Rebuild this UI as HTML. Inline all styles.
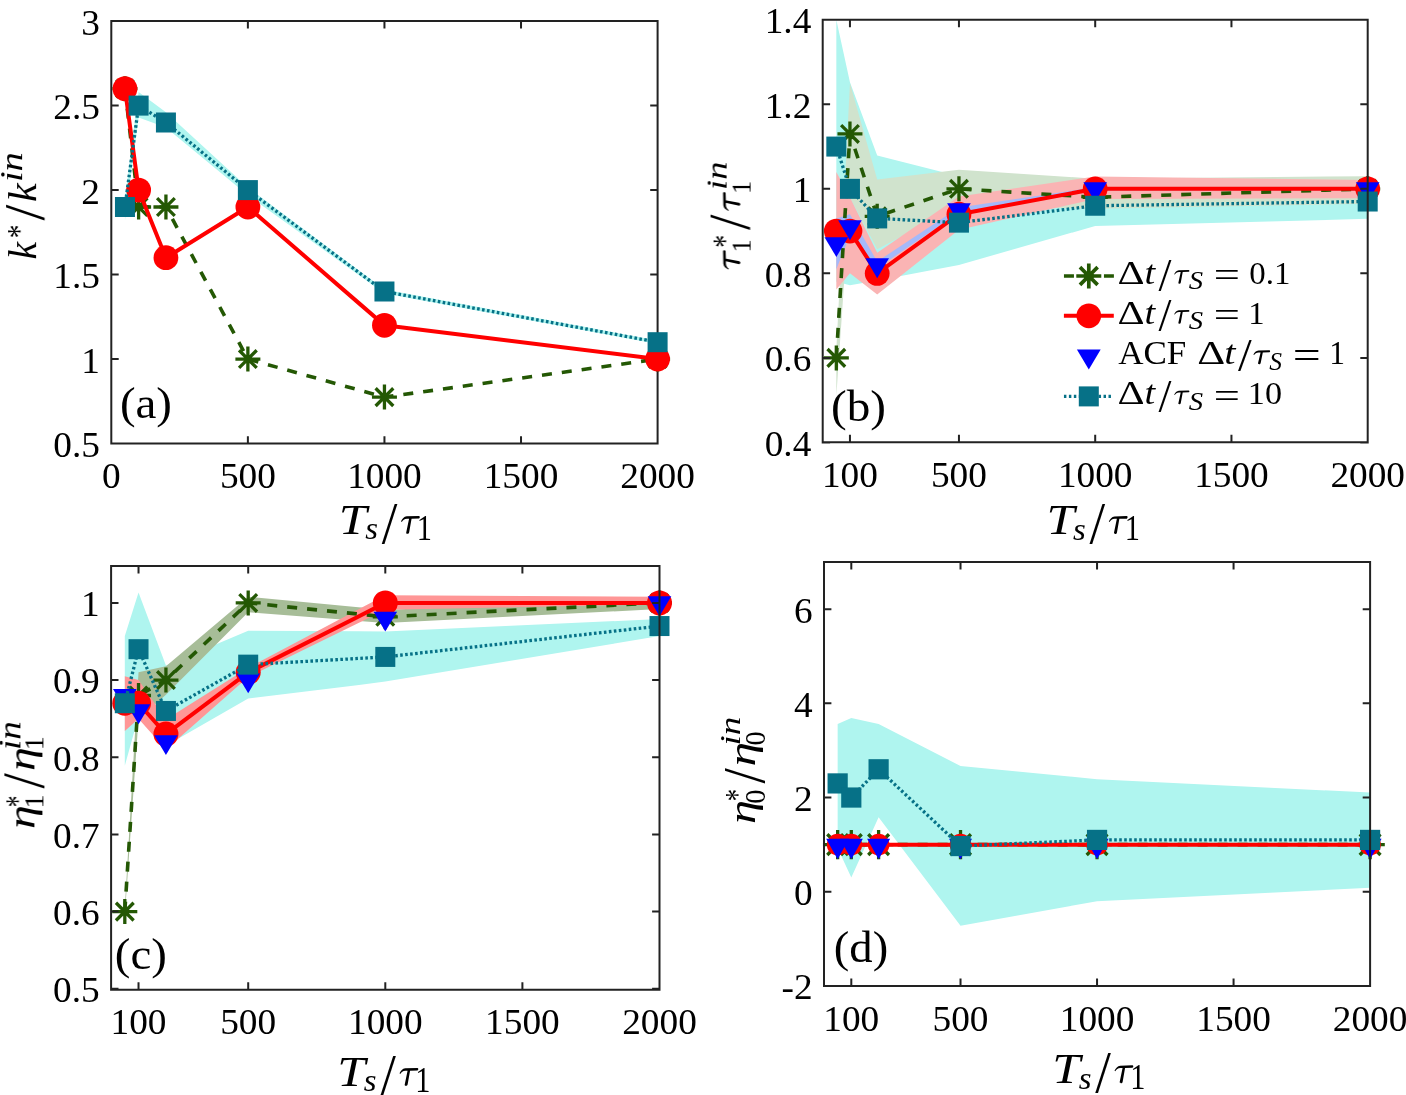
<!DOCTYPE html>
<html><head><meta charset="utf-8"><style>
html,body{margin:0;padding:0;background:#fff;}
svg{display:block;}
text{-webkit-font-smoothing:antialiased;}
text{font-family:"Liberation Serif",serif;fill:#000;}
</style></head><body>
<svg width="1406" height="1095" viewBox="0 0 1406 1095">
<rect width="1406" height="1095" fill="#fff"/>
<g style="will-change:transform">
<path d="M111.3 21.1H657.6V443.6H111.3ZM111.3 443.6v-6.4M111.3 21.1v6.4M247.88 443.6v-6.4M247.88 21.1v6.4M384.45 443.6v-6.4M384.45 21.1v6.4M521.02 443.6v-6.4M521.02 21.1v6.4M657.6 443.6v-6.4M657.6 21.1v6.4M111.3 443.6h6.4M657.6 443.6h-6.4M111.3 359.1h6.4M657.6 359.1h-6.4M111.3 274.6h6.4M657.6 274.6h-6.4M111.3 190.1h6.4M657.6 190.1h-6.4M111.3 105.6h6.4M657.6 105.6h-6.4M111.3 21.1h6.4M657.6 21.1h-6.4" fill="none" stroke="#222222" stroke-width="2" stroke-linecap="square"/>
<polygon points="124.96,198.55 138.62,92.08 165.93,112.36 247.88,187.56 384.45,289.47 657.6,340.51 657.6,343.89 384.45,293.53 247.88,195.17 165.93,127.57 138.62,117.43 124.96,220.52" fill="#aff5ef"/>
<polyline points="124.96,88.7 138.62,207 165.93,207 247.88,359.1 384.45,397.12 657.6,359.1" fill="none" stroke="#245804" stroke-width="3.6" stroke-dasharray="10 10"/>
<path d="M112.46 88.7L137.46 88.7M116.12 79.86L133.8 97.54M124.96 76.2L124.96 101.2M133.8 79.86L116.12 97.54" stroke="#245804" stroke-width="3.3" fill="none"/>
<path d="M126.12 207L151.12 207M129.78 198.16L147.45 215.84M138.62 194.5L138.62 219.5M147.45 198.16L129.78 215.84" stroke="#245804" stroke-width="3.3" fill="none"/>
<path d="M153.43 207L178.43 207M157.09 198.16L174.77 215.84M165.93 194.5L165.93 219.5M174.77 198.16L157.09 215.84" stroke="#245804" stroke-width="3.3" fill="none"/>
<path d="M235.38 359.1L260.38 359.1M239.04 350.26L256.71 367.94M247.88 346.6L247.88 371.6M256.71 350.26L239.04 367.94" stroke="#245804" stroke-width="3.3" fill="none"/>
<path d="M371.95 397.12L396.95 397.12M375.61 388.29L393.29 405.96M384.45 384.62L384.45 409.62M393.29 388.29L375.61 405.96" stroke="#245804" stroke-width="3.3" fill="none"/>
<path d="M645.1 359.1L670.1 359.1M648.76 350.26L666.44 367.94M657.6 346.6L657.6 371.6M666.44 350.26L648.76 367.94" stroke="#245804" stroke-width="3.3" fill="none"/>
<polyline points="124.96,88.7 138.62,190.1 165.93,257.7 247.88,207 384.45,325.3 657.6,359.1" fill="none" stroke="#ff0000" stroke-width="4" stroke-linejoin="round"/>
<circle cx="124.96" cy="88.7" r="12.4" fill="#ff0000"/>
<circle cx="138.62" cy="190.1" r="12.4" fill="#ff0000"/>
<circle cx="165.93" cy="257.7" r="12.4" fill="#ff0000"/>
<circle cx="247.88" cy="207" r="12.4" fill="#ff0000"/>
<circle cx="384.45" cy="325.3" r="12.4" fill="#ff0000"/>
<circle cx="657.6" cy="359.1" r="12.4" fill="#ff0000"/>
<polyline points="124.96,207 138.62,105.6 165.93,122.5 247.88,190.1 384.45,291.5 657.6,342.2" fill="none" stroke="#067187" stroke-width="3.3" stroke-dasharray="2.6 2.4"/>
<rect x="114.96" y="197" width="20" height="20" fill="#067187"/>
<rect x="128.62" y="95.6" width="20" height="20" fill="#067187"/>
<rect x="155.93" y="112.5" width="20" height="20" fill="#067187"/>
<rect x="237.88" y="180.1" width="20" height="20" fill="#067187"/>
<rect x="374.45" y="281.5" width="20" height="20" fill="#067187"/>
<rect x="647.6" y="332.2" width="20" height="20" fill="#067187"/>
<text transform="translate(101.97 487.9) scale(1.054 1)" font-size="35.4">0</text>
<text transform="translate(219.89 487.9) scale(1.054 1)" font-size="35.4">500</text>
<text transform="translate(347.14 487.9) scale(1.054 1)" font-size="35.4">1000</text>
<text transform="translate(483.71 487.9) scale(1.054 1)" font-size="35.4">1500</text>
<text transform="translate(620.29 487.9) scale(1.054 1)" font-size="35.4">2000</text>
<text transform="translate(53.26 457) scale(1.054 1)" font-size="35.4">0.5</text>
<text transform="translate(81.24 372.5) scale(1.054 1)" font-size="35.4">1</text>
<text transform="translate(53.26 288) scale(1.054 1)" font-size="35.4">1.5</text>
<text transform="translate(81.24 203.5) scale(1.054 1)" font-size="35.4">2</text>
<text transform="translate(53.26 119) scale(1.054 1)" font-size="35.4">2.5</text>
<text transform="translate(81.24 34.5) scale(1.054 1)" font-size="35.4">3</text>
<text transform="translate(338.73 533.6) scale(1.2039 1)" font-size="41.83" font-style="italic">T</text>
<text transform="translate(365.19 539.39) scale(1.0498 1)" font-size="31.25" font-style="italic">s</text>
<text transform="translate(381.8 542.7) scale(0.9416 1)" font-size="59.7">/</text>
<path transform="translate(401 515.9) scale(19.200 18.200)" d="M0 .30C.07 .16 .15 .03 .30 .02L.93 0C.99 0 1 .10 .94 .14L.55 .15L.425 .90C.41 1.01 .27 1.01 .27 .92L.42 .15L.31 .15C.17 .16 .10 .22 .04 .33Z" fill="#000"/>
<text transform="translate(416.84 539.7) scale(0.8348 1)" font-size="36.36">1</text>
<text transform="translate(119.91 418.48) scale(1.0700 1)" font-size="43.86">(a)</text>
<polygon points="836.33,19.8 849.95,82.34 877.2,155.45 958.95,176.16 1095.2,180.39 1367.7,184.61 1367.7,218.84 1095.2,226.03 958.95,264.91 877.2,280.54 849.95,285.19 836.33,281.81" fill="#aff5ef"/>
<polygon points="836.33,349.43 849.95,83.19 877.2,179.54 958.95,169.82 1095.2,178.7 1367.7,176.16 1367.7,203.63 1095.2,208.7 958.95,205.74 877.2,249.27 849.95,197.29 836.33,395.91" fill="#d0e3cd"/>
<polygon points="836.33,171.94 849.95,197.29 877.2,252.65 958.95,196.45 1095.2,176.58 1367.7,179.97 1367.7,198.14 1095.2,198.98 958.95,229.83 877.2,294.49 849.95,273.36 836.33,289.42" fill="#fab4b4"/>
<polygon points="836.33,218.42 849.95,214.2 877.2,261.53 958.95,207.43 1095.2,187.15 1367.7,187.15 1367.7,190.53 1095.2,190.53 958.95,212.51 877.2,268.29 849.95,235.33 836.33,269.13" fill="#a5b9fa"/>
<polyline points="836.33,357.88 849.95,133.9 877.2,216.31 958.95,188.84 1095.2,197.29 1367.7,188.84" fill="none" stroke="#245804" stroke-width="3.6" stroke-dasharray="10 10"/>
<path d="M823.83 357.88L848.83 357.88M827.49 349.04L845.16 366.72M836.33 345.38L836.33 370.38M845.16 349.04L827.49 366.72" stroke="#245804" stroke-width="3.3" fill="none"/>
<path d="M837.45 133.9L862.45 133.9M841.11 125.06L858.79 142.74M849.95 121.4L849.95 146.4M858.79 125.06L841.11 142.74" stroke="#245804" stroke-width="3.3" fill="none"/>
<path d="M864.7 216.31L889.7 216.31M868.36 207.47L886.04 225.15M877.2 203.81L877.2 228.81M886.04 207.47L868.36 225.15" stroke="#245804" stroke-width="3.3" fill="none"/>
<path d="M946.45 188.84L971.45 188.84M950.11 180L967.79 197.68M958.95 176.34L958.95 201.34M967.79 180L950.11 197.68" stroke="#245804" stroke-width="3.3" fill="none"/>
<path d="M1082.7 197.29L1107.7 197.29M1086.36 188.45L1104.04 206.13M1095.2 184.79L1095.2 209.79M1104.04 188.45L1086.36 206.13" stroke="#245804" stroke-width="3.3" fill="none"/>
<path d="M1355.2 188.84L1380.2 188.84M1358.86 180L1376.54 197.68M1367.7 176.34L1367.7 201.34M1376.54 180L1358.86 197.68" stroke="#245804" stroke-width="3.3" fill="none"/>
<polyline points="836.33,231.1 849.95,231.1 877.2,273.36 958.95,214.2 1095.2,188.84 1367.7,188.84" fill="none" stroke="#ff0000" stroke-width="4" stroke-linejoin="round"/>
<circle cx="836.33" cy="231.1" r="12.4" fill="#ff0000"/>
<circle cx="849.95" cy="231.1" r="12.4" fill="#ff0000"/>
<circle cx="877.2" cy="273.36" r="12.4" fill="#ff0000"/>
<circle cx="958.95" cy="214.2" r="12.4" fill="#ff0000"/>
<circle cx="1095.2" cy="188.84" r="12.4" fill="#ff0000"/>
<circle cx="1367.7" cy="188.84" r="12.4" fill="#ff0000"/>
<path d="M824.53 237.14L848.12 237.14L836.33 257.04Z" fill="#0000ff"/>
<path d="M838.15 220.24L861.75 220.24L849.95 240.14Z" fill="#0000ff"/>
<path d="M865.4 258.27L889 258.27L877.2 278.17Z" fill="#0000ff"/>
<path d="M947.15 203.34L970.75 203.34L958.95 223.24Z" fill="#0000ff"/>
<path d="M1083.4 182.21L1107 182.21L1095.2 202.11Z" fill="#0000ff"/>
<path d="M1355.9 182.21L1379.5 182.21L1367.7 202.11Z" fill="#0000ff"/>
<polyline points="836.33,146.58 849.95,188.84 877.2,218.42 958.95,222.65 1095.2,205.74 1367.7,201.52" fill="none" stroke="#067187" stroke-width="3.3" stroke-dasharray="2.6 2.4"/>
<rect x="826.33" y="136.58" width="20" height="20" fill="#067187"/>
<rect x="839.95" y="178.84" width="20" height="20" fill="#067187"/>
<rect x="867.2" y="208.42" width="20" height="20" fill="#067187"/>
<rect x="948.95" y="212.65" width="20" height="20" fill="#067187"/>
<rect x="1085.2" y="195.74" width="20" height="20" fill="#067187"/>
<rect x="1357.7" y="191.52" width="20" height="20" fill="#067187"/>
<path d="M822.7 19.8H1367.7V442.2H822.7ZM849.95 442.2v-6.4M849.95 19.8v6.4M958.95 442.2v-6.4M958.95 19.8v6.4M1095.2 442.2v-6.4M1095.2 19.8v6.4M1231.45 442.2v-6.4M1231.45 19.8v6.4M1367.7 442.2v-6.4M1367.7 19.8v6.4M822.7 442.4h6.4M1367.7 442.4h-6.4M822.7 357.88h6.4M1367.7 357.88h-6.4M822.7 273.36h6.4M1367.7 273.36h-6.4M822.7 188.84h6.4M1367.7 188.84h-6.4M822.7 104.32h6.4M1367.7 104.32h-6.4M822.7 19.8h6.4M1367.7 19.8h-6.4" fill="none" stroke="#222222" stroke-width="2" stroke-linecap="square"/>
<text transform="translate(821.97 486.8) scale(1.054 1)" font-size="35.4">100</text>
<text transform="translate(930.97 486.8) scale(1.054 1)" font-size="35.4">500</text>
<text transform="translate(1057.89 486.8) scale(1.054 1)" font-size="35.4">1000</text>
<text transform="translate(1194.14 486.8) scale(1.054 1)" font-size="35.4">1500</text>
<text transform="translate(1330.39 486.8) scale(1.054 1)" font-size="35.4">2000</text>
<text transform="translate(764.66 455.8) scale(1.054 1)" font-size="35.4">0.4</text>
<text transform="translate(764.66 371.28) scale(1.054 1)" font-size="35.4">0.6</text>
<text transform="translate(764.66 286.76) scale(1.054 1)" font-size="35.4">0.8</text>
<text transform="translate(792.64 202.24) scale(1.054 1)" font-size="35.4">1</text>
<text transform="translate(764.66 117.72) scale(1.054 1)" font-size="35.4">1.2</text>
<text transform="translate(764.66 33.2) scale(1.054 1)" font-size="35.4">1.4</text>
<text transform="translate(1046.53 533.8) scale(1.2039 1)" font-size="41.83" font-style="italic">T</text>
<text transform="translate(1072.99 539.59) scale(1.0498 1)" font-size="31.25" font-style="italic">s</text>
<text transform="translate(1089.6 542.9) scale(0.9416 1)" font-size="59.7">/</text>
<path transform="translate(1108.8 516.1) scale(19.200 18.200)" d="M0 .30C.07 .16 .15 .03 .30 .02L.93 0C.99 0 1 .10 .94 .14L.55 .15L.425 .90C.41 1.01 .27 1.01 .27 .92L.42 .15L.31 .15C.17 .16 .10 .22 .04 .33Z" fill="#000"/>
<text transform="translate(1124.64 539.9) scale(0.8348 1)" font-size="36.36">1</text>
<text transform="translate(831 420.71) scale(1.0666 1)" font-size="44.19">(b)</text>
<polygon points="124.81,636.08 138.52,592.4 165.94,665.41 248.2,630.68 385.3,631.45 659.5,619.1 659.5,636.08 385.3,681.62 248.2,698.6 165.94,745.68 138.52,716.35 124.81,765.75" fill="#aff5ef"/>
<polygon points="124.81,907.76 138.52,672.36 165.94,666.18 248.2,596.72 385.3,609.84 659.5,599.81 659.5,609.07 385.3,622.96 248.2,612.15 165.94,694.74 138.52,718.66 124.81,915.48" fill="#a7bd98"/>
<polygon points="124.81,676.22 138.52,680.07 165.94,719.44 248.2,667.73 385.3,595.17 659.5,596.72 659.5,604.44 385.3,609.84 248.2,676.99 165.94,749.54 138.52,718.66 124.81,731.01" fill="#ff9696"/>
<polyline points="124.81,911.62 138.52,695.51 165.94,680.07 248.2,602.89 385.3,616.79 659.5,602.89" fill="none" stroke="#245804" stroke-width="3.6" stroke-dasharray="10 10"/>
<path d="M112.31 911.62L137.31 911.62M115.97 902.78L133.65 920.46M124.81 899.12L124.81 924.12M133.65 902.78L115.97 920.46" stroke="#245804" stroke-width="3.3" fill="none"/>
<path d="M126.02 695.51L151.02 695.51M129.68 686.67L147.36 704.35M138.52 683.01L138.52 708.01M147.36 686.67L129.68 704.35" stroke="#245804" stroke-width="3.3" fill="none"/>
<path d="M153.44 680.07L178.44 680.07M157.1 671.24L174.78 688.91M165.94 667.57L165.94 692.57M174.78 671.24L157.1 688.91" stroke="#245804" stroke-width="3.3" fill="none"/>
<path d="M235.7 602.89L260.7 602.89M239.36 594.05L257.04 611.73M248.2 590.39L248.2 615.39M257.04 594.05L239.36 611.73" stroke="#245804" stroke-width="3.3" fill="none"/>
<path d="M372.8 616.79L397.8 616.79M376.46 607.95L394.14 625.62M385.3 604.29L385.3 629.29M394.14 607.95L376.46 625.62" stroke="#245804" stroke-width="3.3" fill="none"/>
<path d="M647 602.89L672 602.89M650.66 594.05L668.34 611.73M659.5 590.39L659.5 615.39M668.34 594.05L650.66 611.73" stroke="#245804" stroke-width="3.3" fill="none"/>
<polyline points="124.81,703.23 138.52,703.23 165.94,734.1 248.2,672.36 385.3,602.89 659.5,602.89" fill="none" stroke="#ff0000" stroke-width="4" stroke-linejoin="round"/>
<circle cx="124.81" cy="703.23" r="12.5" fill="#ff0000"/>
<circle cx="138.52" cy="703.23" r="12.5" fill="#ff0000"/>
<circle cx="165.94" cy="734.1" r="12.5" fill="#ff0000"/>
<circle cx="248.2" cy="672.36" r="12.5" fill="#ff0000"/>
<circle cx="385.3" cy="602.89" r="12.5" fill="#ff0000"/>
<circle cx="659.5" cy="602.89" r="12.5" fill="#ff0000"/>
<path d="M113.01 688.88L136.61 688.88L124.81 708.78Z" fill="#0000ff"/>
<path d="M126.72 704.31L150.32 704.31L138.52 724.21Z" fill="#0000ff"/>
<path d="M154.14 735.19L177.74 735.19L165.94 755.09Z" fill="#0000ff"/>
<path d="M236.4 673.44L260 673.44L248.2 693.34Z" fill="#0000ff"/>
<path d="M373.5 611.7L397.1 611.7L385.3 631.6Z" fill="#0000ff"/>
<path d="M647.7 596.26L671.3 596.26L659.5 616.16Z" fill="#0000ff"/>
<polyline points="124.81,703.23 138.52,649.2 165.94,710.95 248.2,664.64 385.3,656.92 659.5,626.05" fill="none" stroke="#067187" stroke-width="3.3" stroke-dasharray="2.6 2.4"/>
<rect x="114.81" y="693.23" width="20" height="20" fill="#067187"/>
<rect x="128.52" y="639.2" width="20" height="20" fill="#067187"/>
<rect x="155.94" y="700.95" width="20" height="20" fill="#067187"/>
<rect x="238.2" y="654.64" width="20" height="20" fill="#067187"/>
<rect x="375.3" y="646.92" width="20" height="20" fill="#067187"/>
<rect x="649.5" y="616.05" width="20" height="20" fill="#067187"/>
<path d="M111.1 566H659.5V989.7H111.1ZM138.52 989.7v-6.4M138.52 566v6.4M248.2 989.7v-6.4M248.2 566v6.4M385.3 989.7v-6.4M385.3 566v6.4M522.4 989.7v-6.4M522.4 566v6.4M659.5 989.7v-6.4M659.5 566v6.4M111.1 988.8h6.4M659.5 988.8h-6.4M111.1 911.62h6.4M659.5 911.62h-6.4M111.1 834.44h6.4M659.5 834.44h-6.4M111.1 757.26h6.4M659.5 757.26h-6.4M111.1 680.07h6.4M659.5 680.07h-6.4M111.1 602.89h6.4M659.5 602.89h-6.4" fill="none" stroke="#222222" stroke-width="2" stroke-linecap="square"/>
<text transform="translate(110.54 1033.5) scale(1.054 1)" font-size="35.4">100</text>
<text transform="translate(220.22 1033.5) scale(1.054 1)" font-size="35.4">500</text>
<text transform="translate(347.99 1033.5) scale(1.054 1)" font-size="35.4">1000</text>
<text transform="translate(485.09 1033.5) scale(1.054 1)" font-size="35.4">1500</text>
<text transform="translate(622.19 1033.5) scale(1.054 1)" font-size="35.4">2000</text>
<text transform="translate(53.06 1002.2) scale(1.054 1)" font-size="35.4">0.5</text>
<text transform="translate(53.06 925.02) scale(1.054 1)" font-size="35.4">0.6</text>
<text transform="translate(53.06 847.84) scale(1.054 1)" font-size="35.4">0.7</text>
<text transform="translate(53.06 770.66) scale(1.054 1)" font-size="35.4">0.8</text>
<text transform="translate(53.06 693.47) scale(1.054 1)" font-size="35.4">0.9</text>
<text transform="translate(81.04 616.29) scale(1.054 1)" font-size="35.4">1</text>
<text transform="translate(337.23 1085.6) scale(1.2039 1)" font-size="41.83" font-style="italic">T</text>
<text transform="translate(363.69 1091.39) scale(1.0498 1)" font-size="31.25" font-style="italic">s</text>
<text transform="translate(380.3 1094.7) scale(0.9416 1)" font-size="59.7">/</text>
<path transform="translate(399.5 1067.9) scale(19.200 18.200)" d="M0 .30C.07 .16 .15 .03 .30 .02L.93 0C.99 0 1 .10 .94 .14L.55 .15L.425 .90C.41 1.01 .27 1.01 .27 .92L.42 .15L.31 .15C.17 .16 .10 .22 .04 .33Z" fill="#000"/>
<text transform="translate(415.34 1091.7) scale(0.8348 1)" font-size="36.36">1</text>
<text transform="translate(114.81 968.58) scale(1.0700 1)" font-size="43.86">(c)</text>
<polygon points="837.65,724.09 851.3,717.96 878.61,724.09 960.52,765.99 1097.05,779.18 1370.1,792.6 1370.1,887.72 1097.05,901.14 960.52,925.63 878.61,817.32 851.3,877.6 837.65,847.93" fill="#aff5ef"/>
<polyline points="837.65,844.63 851.3,844.63 878.61,844.63 960.52,844.63 1097.05,844.63 1370.1,844.63" fill="none" stroke="#245804" stroke-width="3.6" stroke-dasharray="10 10"/>
<path d="M822.95 844.63L852.35 844.63M827.26 834.24L848.05 855.03M837.65 829.93L837.65 859.33M848.05 834.24L827.26 855.03" stroke="#245804" stroke-width="3.3" fill="none"/>
<path d="M836.6 844.63L866 844.63M840.91 834.24L861.7 855.03M851.3 829.93L851.3 859.33M861.7 834.24L840.91 855.03" stroke="#245804" stroke-width="3.3" fill="none"/>
<path d="M863.91 844.63L893.31 844.63M868.22 834.24L889 855.03M878.61 829.93L878.61 859.33M889 834.24L868.22 855.03" stroke="#245804" stroke-width="3.3" fill="none"/>
<path d="M945.82 844.63L975.23 844.63M950.13 834.24L970.92 855.03M960.52 829.93L960.52 859.33M970.92 834.24L950.13 855.03" stroke="#245804" stroke-width="3.3" fill="none"/>
<path d="M1082.35 844.63L1111.75 844.63M1086.66 834.24L1107.44 855.03M1097.05 829.93L1097.05 859.33M1107.44 834.24L1086.66 855.03" stroke="#245804" stroke-width="3.3" fill="none"/>
<path d="M1355.4 844.63L1384.8 844.63M1359.71 834.24L1380.49 855.03M1370.1 829.93L1370.1 859.33M1380.49 834.24L1359.71 855.03" stroke="#245804" stroke-width="3.3" fill="none"/>
<polyline points="837.65,844.63 851.3,844.63 878.61,844.63 960.52,844.63 1097.05,844.63 1370.1,844.63" fill="none" stroke="#ff0000" stroke-width="4" stroke-linejoin="round"/>
<circle cx="837.65" cy="844.63" r="10.8" fill="#ff0000"/>
<circle cx="851.3" cy="844.63" r="10.8" fill="#ff0000"/>
<circle cx="878.61" cy="844.63" r="10.8" fill="#ff0000"/>
<circle cx="960.52" cy="844.63" r="10.8" fill="#ff0000"/>
<circle cx="1097.05" cy="844.63" r="10.8" fill="#ff0000"/>
<circle cx="1370.1" cy="844.63" r="10.8" fill="#ff0000"/>
<path d="M826.15 838.74L849.15 838.74L837.65 859.24Z" fill="#0000ff"/>
<path d="M839.8 838.74L862.8 838.74L851.3 859.24Z" fill="#0000ff"/>
<path d="M867.11 838.74L890.11 838.74L878.61 859.24Z" fill="#0000ff"/>
<path d="M949.02 838.74L972.02 838.74L960.52 859.24Z" fill="#0000ff"/>
<path d="M1085.55 838.74L1108.55 838.74L1097.05 859.24Z" fill="#0000ff"/>
<path d="M1358.6 838.74L1381.6 838.74L1370.1 859.24Z" fill="#0000ff"/>
<polyline points="837.65,783.42 851.3,797.54 878.61,769.29 960.52,846.05 1097.05,839.92 1370.1,839.92" fill="none" stroke="#067187" stroke-width="3.3" stroke-dasharray="2.6 2.4"/>
<rect x="827.55" y="773.32" width="20.2" height="20.2" fill="#067187"/>
<rect x="841.2" y="787.44" width="20.2" height="20.2" fill="#067187"/>
<rect x="868.51" y="759.19" width="20.2" height="20.2" fill="#067187"/>
<rect x="950.42" y="835.95" width="20.2" height="20.2" fill="#067187"/>
<rect x="1086.95" y="829.82" width="20.2" height="20.2" fill="#067187"/>
<rect x="1360" y="829.82" width="20.2" height="20.2" fill="#067187"/>
<path d="M824 562.1H1370.1V985.9H824ZM851.3 985.9v-6.4M851.3 562.1v6.4M960.52 985.9v-6.4M960.52 562.1v6.4M1097.05 985.9v-6.4M1097.05 562.1v6.4M1233.57 985.9v-6.4M1233.57 562.1v6.4M1370.1 985.9v-6.4M1370.1 562.1v6.4M824 985.9h6.4M1370.1 985.9h-6.4M824 891.72h6.4M1370.1 891.72h-6.4M824 797.54h6.4M1370.1 797.54h-6.4M824 703.37h6.4M1370.1 703.37h-6.4M824 609.19h6.4M1370.1 609.19h-6.4" fill="none" stroke="#222222" stroke-width="2" stroke-linecap="square"/>
<text transform="translate(823.32 1030.9) scale(1.054 1)" font-size="35.4">100</text>
<text transform="translate(932.54 1030.9) scale(1.054 1)" font-size="35.4">500</text>
<text transform="translate(1059.74 1030.9) scale(1.054 1)" font-size="35.4">1000</text>
<text transform="translate(1196.26 1030.9) scale(1.054 1)" font-size="35.4">1500</text>
<text transform="translate(1332.79 1030.9) scale(1.054 1)" font-size="35.4">2000</text>
<text transform="translate(781.52 999.3) scale(1.054 1)" font-size="35.4">-2</text>
<text transform="translate(793.94 905.12) scale(1.054 1)" font-size="35.4">0</text>
<text transform="translate(793.94 810.94) scale(1.054 1)" font-size="35.4">2</text>
<text transform="translate(793.94 716.77) scale(1.054 1)" font-size="35.4">4</text>
<text transform="translate(793.94 622.59) scale(1.054 1)" font-size="35.4">6</text>
<text transform="translate(1052.23 1083) scale(1.2039 1)" font-size="41.83" font-style="italic">T</text>
<text transform="translate(1078.69 1088.79) scale(1.0498 1)" font-size="31.25" font-style="italic">s</text>
<text transform="translate(1095.3 1092.1) scale(0.9416 1)" font-size="59.7">/</text>
<path transform="translate(1114.5 1065.3) scale(19.200 18.200)" d="M0 .30C.07 .16 .15 .03 .30 .02L.93 0C.99 0 1 .10 .94 .14L.55 .15L.425 .90C.41 1.01 .27 1.01 .27 .92L.42 .15L.31 .15C.17 .16 .10 .22 .04 .33Z" fill="#000"/>
<text transform="translate(1130.34 1089.1) scale(0.8348 1)" font-size="36.36">1</text>
<text transform="translate(833.82 962.48) scale(1.0641 1)" font-size="43.86">(d)</text>
<g transform="translate(36.1 0) rotate(-90)">
<text transform="translate(-259.49 0) scale(0.9674 1)" font-size="40.86" font-style="italic">k</text>
<text transform="translate(-238.37 -5.94) scale(0.7971 1)" font-size="34.29">*</text>
<text transform="translate(-220.5 8.22) scale(0.9807 1)" font-size="58.06">/</text>
<text transform="translate(-202.06 0) scale(1.0304 1)" font-size="40.86" font-style="italic">k</text>
<text transform="translate(-182.12 -14.2) scale(1.2574 1)" font-size="30.64" font-style="italic">in</text>
</g>
<g transform="translate(740.6 0) rotate(-90)">
<path transform="translate(-269.5 -17.5) scale(19.700 17.500)" d="M0 .30C.07 .16 .15 .03 .30 .02L.93 0C.99 0 1 .10 .94 .14L.55 .15L.425 .90C.41 1.01 .27 1.01 .27 .92L.42 .15L.31 .15C.17 .16 .10 .22 .04 .33Z" fill="#000"/>
<text transform="translate(-252.61 9.9) scale(0.9620 1)" font-size="27.42">1</text>
<text transform="translate(-247.79 -5.44) scale(0.7536 1)" font-size="34.29">*</text>
<text transform="translate(-230.1 9.31) scale(0.9413 1)" font-size="58.96">/</text>
<path transform="translate(-210.9 -17.5) scale(19.200 17.500)" d="M0 .30C.07 .16 .15 .03 .30 .02L.93 0C.99 0 1 .10 .94 .14L.55 .15L.425 .90C.41 1.01 .27 1.01 .27 .92L.42 .15L.31 .15C.17 .16 .10 .22 .04 .33Z" fill="#000"/>
<text transform="translate(-194.01 9.9) scale(0.9620 1)" font-size="27.42">1</text>
<text transform="translate(-189.9 -13.7) scale(1.2215 1)" font-size="29.74" font-style="italic">in</text>
</g>
<g transform="translate(33.4 0) rotate(-90)">
<text transform="translate(-828.98 0.61) scale(1.2481 1)" font-size="38.53" font-style="italic">η</text>
<text transform="translate(-808.46 10.4) scale(1.0298 1)" font-size="27.27">1</text>
<text transform="translate(-807.17 -5.44) scale(0.6812 1)" font-size="34.29">*</text>
<text transform="translate(-788.4 9.8) scale(0.9235 1)" font-size="59.7">/</text>
<text transform="translate(-770.88 0.61) scale(1.2481 1)" font-size="38.53" font-style="italic">η</text>
<text transform="translate(-750.36 10.4) scale(1.0298 1)" font-size="27.27">1</text>
<text transform="translate(-749.94 -13.1) scale(1.2094 1)" font-size="30.64" font-style="italic">in</text>
</g>
<g transform="translate(754 0) rotate(-90)">
<text transform="translate(-823.99 0.51) scale(1.2543 1)" font-size="38.53" font-style="italic">η</text>
<text transform="translate(-803.67 10.61) scale(0.9755 1)" font-size="29.19">0</text>
<text transform="translate(-801.13 -5.54) scale(0.7174 1)" font-size="34.29">*</text>
<text transform="translate(-783.4 9.8) scale(0.9235 1)" font-size="59.7">/</text>
<text transform="translate(-766.53 0.51) scale(1.2852 1)" font-size="38.53" font-style="italic">η</text>
<text transform="translate(-745.56 10.61) scale(0.9675 1)" font-size="29.19">0</text>
<text transform="translate(-745.44 -13.7) scale(1.2400 1)" font-size="29.89" font-style="italic">in</text>
</g>
<path d="M1063.95 276.0H1113.9" stroke="#245804" stroke-width="3.7" stroke-dasharray="10 10"/>
<path d="M1076.3 276L1101.3 276M1079.96 267.16L1097.64 284.84M1088.8 263.5L1088.8 288.5M1097.64 267.16L1079.96 284.84" stroke="#245804" stroke-width="3.7" fill="none"/>
<path d="M1063.9 315.8H1113.8" stroke="#ff0000" stroke-width="4"/>
<circle cx="1088.8" cy="315.8" r="12.35" fill="#ff0000"/>
<path d="M1076.9 349.57L1100.7 349.57L1088.8 369.47Z" fill="#0000ff"/>
<path d="M1063.95 396.4H1112" stroke="#067187" stroke-width="3.3" stroke-dasharray="2.45 2.5"/>
<rect x="1078.8" y="386.4" width="20" height="20" fill="#067187"/>
<text transform="translate(1117.62 283.6) scale(1.2354 1)" font-size="34.09">Δ</text>
<text transform="translate(1144.47 283.66) scale(1.1328 1)" font-size="33.91" font-style="italic">t</text>
<text transform="translate(1158.6 291.03) scale(0.9794 1)" font-size="47.46">/</text>
<path transform="translate(1174.2 269.9) scale(15.500 14.100)" d="M0 .30C.07 .16 .15 .03 .30 .02L.93 0C.99 0 1 .10 .94 .14L.55 .15L.425 .90C.41 1.01 .27 1.01 .27 .92L.42 .15L.31 .15C.17 .16 .10 .22 .04 .33Z" fill="#000"/>
<text transform="translate(1188.74 289.24) scale(1.0975 1)" font-size="26.17" font-style="italic">S</text>
<text transform="translate(1213.78 287.3) scale(1.3196 1)" font-size="35.2">=</text>
<text transform="translate(1249.27 283.54) scale(1.0699 1)" font-size="30.74">0.1</text>
<text transform="translate(1117.62 323.6) scale(1.2354 1)" font-size="34.09">Δ</text>
<text transform="translate(1144.47 323.66) scale(1.1328 1)" font-size="33.91" font-style="italic">t</text>
<text transform="translate(1158.6 331.03) scale(0.9794 1)" font-size="47.46">/</text>
<path transform="translate(1174.2 309.9) scale(15.500 14.100)" d="M0 .30C.07 .16 .15 .03 .30 .02L.93 0C.99 0 1 .10 .94 .14L.55 .15L.425 .90C.41 1.01 .27 1.01 .27 .92L.42 .15L.31 .15C.17 .16 .10 .22 .04 .33Z" fill="#000"/>
<text transform="translate(1188.74 329.24) scale(1.0975 1)" font-size="26.17" font-style="italic">S</text>
<text transform="translate(1213.78 327.3) scale(1.3196 1)" font-size="35.2">=</text>
<text transform="translate(1248.35 323.6) scale(1.0109 1)" font-size="32.27">1</text>
<text transform="translate(1117.62 404.1) scale(1.2354 1)" font-size="34.09">Δ</text>
<text transform="translate(1144.47 404.16) scale(1.1328 1)" font-size="33.91" font-style="italic">t</text>
<text transform="translate(1158.6 411.53) scale(0.9794 1)" font-size="47.46">/</text>
<path transform="translate(1174.2 390.4) scale(15.500 14.100)" d="M0 .30C.07 .16 .15 .03 .30 .02L.93 0C.99 0 1 .10 .94 .14L.55 .15L.425 .90C.41 1.01 .27 1.01 .27 .92L.42 .15L.31 .15C.17 .16 .10 .22 .04 .33Z" fill="#000"/>
<text transform="translate(1188.74 409.74) scale(1.0975 1)" font-size="26.17" font-style="italic">S</text>
<text transform="translate(1213.78 407.8) scale(1.3196 1)" font-size="35.2">=</text>
<text transform="translate(1247.81 404.19) scale(1.1036 1)" font-size="30.96">10</text>
<text transform="translate(1118.15 363.67) scale(1.0618 1)" font-size="33.01">ACF</text>
<text transform="translate(1197.17 364) scale(1.2940 1)" font-size="33.64">Δ</text>
<text transform="translate(1224.28 364.07) scale(1.2098 1)" font-size="33.39" font-style="italic">t</text>
<text transform="translate(1238 371.23) scale(1.0468 1)" font-size="47.16">/</text>
<path transform="translate(1253.4 350.3) scale(17.100 14.100)" d="M0 .30C.07 .16 .15 .03 .30 .02L.93 0C.99 0 1 .10 .94 .14L.55 .15L.425 .90C.41 1.01 .27 1.01 .27 .92L.42 .15L.31 .15C.17 .16 .10 .22 .04 .33Z" fill="#000"/>
<text transform="translate(1269.28 369.75) scale(1.0041 1)" font-size="25.43" font-style="italic">S</text>
<text transform="translate(1292.72 368.4) scale(1.3212 1)" font-size="37.6">=</text>
<text transform="translate(1329.14 364.4) scale(0.9577 1)" font-size="32.88">1</text>
</g>
</svg></body></html>
